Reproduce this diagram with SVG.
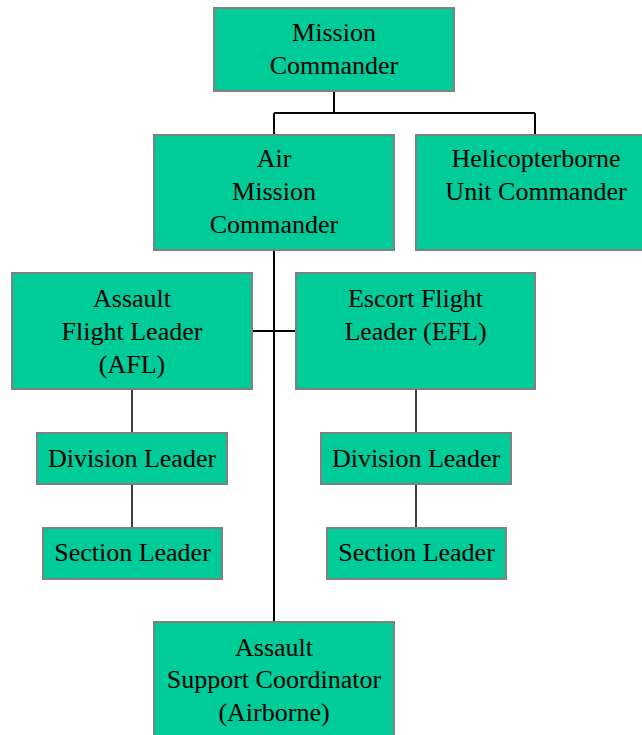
<svg xmlns="http://www.w3.org/2000/svg" width="642" height="735" viewBox="0 0 642 735">
  <style>
    .box { fill: #00CC99; stroke: #808080; stroke-width: 2; }
    .lbl { font-family: "Liberation Serif", "Times New Roman", serif; font-size: 26px; fill: #000; text-anchor: middle; }
    .wire { stroke: #000; stroke-width: 2; fill: none; }
    .thin { stroke: #000; stroke-width: 1.5; fill: none; }
  </style>
  <rect width="642" height="735" fill="#fff"/>

  <g id="connectors">
    <path class="wire" d="M334,91 V113 M274,113 H535 M274,113 V135 M535,113 V135"/>
    <path class="wire" d="M274,250 V622"/>
    <path class="wire" d="M252,331 H296"/>
    <path class="thin" d="M132,389 V433 M132,484 V528"/>
    <path class="thin" d="M416,389 V433 M416,484 V528"/>
  </g>

  <g id="mission-commander">
    <rect class="box" x="214" y="8" width="240" height="83"/>
    <text class="lbl" x="334" y="41">Mission</text>
    <text class="lbl" x="334" y="74">Commander</text>
  </g>

  <g id="air-mission-commander">
    <rect class="box" x="154" y="135" width="240" height="115"/>
    <text class="lbl" x="274" y="167">Air</text>
    <text class="lbl" x="274" y="200">Mission</text>
    <text class="lbl" x="274" y="233">Commander</text>
  </g>

  <g id="helicopterborne-unit-commander">
    <rect class="box" x="416" y="135" width="240" height="115"/>
    <text class="lbl" x="536" y="167">Helicopterborne</text>
    <text class="lbl" x="536" y="200">Unit Commander</text>
  </g>

  <g id="assault-flight-leader">
    <rect class="box" x="12" y="273" width="240" height="116"/>
    <text class="lbl" x="132" y="307">Assault</text>
    <text class="lbl" x="132" y="340">Flight Leader</text>
    <text class="lbl" x="132" y="373">(AFL)</text>
  </g>

  <g id="escort-flight-leader">
    <rect class="box" x="296" y="273" width="239" height="116"/>
    <text class="lbl" x="415.5" y="307">Escort Flight</text>
    <text class="lbl" x="415.5" y="340">Leader (EFL)</text>
  </g>

  <g id="assault-division-leader">
    <rect class="box" x="37" y="433" width="190" height="51"/>
    <text class="lbl" x="132" y="467">Division Leader</text>
  </g>

  <g id="assault-section-leader">
    <rect class="box" x="43" y="528" width="179" height="51"/>
    <text class="lbl" x="132.5" y="561">Section Leader</text>
  </g>

  <g id="escort-division-leader">
    <rect class="box" x="321" y="433" width="190" height="51"/>
    <text class="lbl" x="416" y="467">Division Leader</text>
  </g>

  <g id="escort-section-leader">
    <rect class="box" x="327" y="528" width="179" height="51"/>
    <text class="lbl" x="416.5" y="561">Section Leader</text>
  </g>

  <g id="assault-support-coordinator">
    <rect class="box" x="154" y="622" width="240" height="120"/>
    <text class="lbl" x="274" y="656">Assault</text>
    <text class="lbl" x="274" y="688">Support Coordinator</text>
    <text class="lbl" x="274" y="721">(Airborne)</text>
  </g>
</svg>
